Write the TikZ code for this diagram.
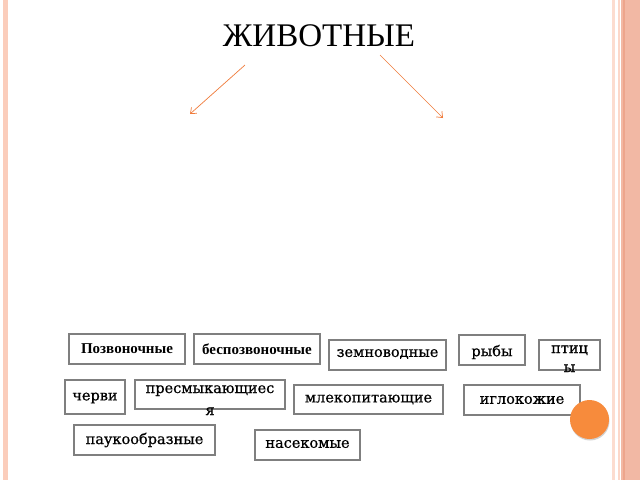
\documentclass[tikz,border=0pt]{standalone}
\usepackage{fontspec}
\setmainfont{DejaVu Serif}
\newfontfamily\lblfont[FakeBold=0.6]{DejaVu Serif}
\newfontfamily\titlefont{Liberation Serif}
\newfontfamily\boldfont{Liberation Serif}
\usetikzlibrary{arrows.meta}
\definecolor{peach}{HTML}{FBCDBB}
\definecolor{salmon}{HTML}{F2B8A4}
\definecolor{salmondark}{HTML}{EDA58C}
\definecolor{arroworange}{HTML}{F07B3B}
\definecolor{dotorange}{HTML}{F78B3C}
\definecolor{boxgray}{HTML}{7F7F7F}
\tikzset{
  boxnode/.style={draw=boxgray, line width=1.6pt, fill=white, inner sep=0pt},
  lbl/.style={font=\lblfont\fontsize{14.5}{15}\selectfont, inner sep=0pt},
  blbl/.style={font=\boldfont\bfseries\fontsize{15}{16}\selectfont, inner sep=0pt},
  arr/.style={draw=arroworange, line width=0.7pt, -{Straight Barb[length=5pt,width=8pt]}}
}
\newcommand{\mybox}[5]{% name, x1,y1,x2,y2
  \path[boxnode] (#2,#3) rectangle (#4,#5);
  \coordinate (#1) at ({(#2+#4)/2},{(#3+#5)/2});
}
\begin{document}
\begin{tikzpicture}[x=1pt,y=-1pt]
\useasboundingbox (0,0) rectangle (640,480);
\fill[white] (0,0) rectangle (640,480);
% decorative borders
\fill[peach] (3,0) rectangle (7.5,480);
\fill[peach!70] (612,0) rectangle (614.5,480);
\fill[peach!80] (618,0) rectangle (620,480);
\fill[salmon] (621,0) rectangle (640,480);
\fill[salmondark] (622.5,0) rectangle (625,480);
% title
\node[font=\titlefont\fontsize{33}{36}\selectfont, anchor=base, inner sep=0pt] (title) at (319,46) {ЖИВОТНЫЕ};
\coordinate (la) at (245,65);
\coordinate (lb) at (190,114);
\coordinate (ra) at (380,55);
\coordinate (rb) at (443,118);
\draw[arr] (la) -- (lb);
\draw[arr] (ra) -- (rb);
% boxes
\mybox{bpoz}{69}{334}{185}{364}
\mybox{bbes}{194}{334}{320}{364}
\mybox{bzem}{329}{340}{446}{370}
\mybox{bryb}{459}{335}{525}{365}
\mybox{bpti}{539}{340}{600}{370}
\mybox{bche}{65}{380}{125}{414}
\mybox{bpre}{135}{380}{285}{409}
\mybox{bmle}{294}{385}{443}{414}
\mybox{bigl}{464}{385}{580}{415}
\mybox{bpau}{74}{425}{215}{455}
\mybox{bnas}{255}{430}{360}{460}
% texts
\node[blbl] (tpoz) at (bpoz) {Позвоночные};
\node[blbl] (tbes) at (bbes) {беспозвоночные};
\node[lbl] (tzem) at ([yshift=1]bzem) {земноводные};
\node[lbl] (tryb) at ([yshift=-2]bryb) {рыбы};
\node[lbl, anchor=base] (tpti) at (569.5,353) {птиц};
\node[lbl, anchor=base] (tpti2) at (569.5,372) {ы};
\node[lbl] (tche) at ([yshift=-1]bche) {черви};
\node[lbl, anchor=base] (tpre) at (210,393) {пресмыкающиес};
\node[lbl, anchor=base] (tpre2) at (210,415) {я};
\node[lbl] (tmle) at (bmle) {млекопитающие};
\node[lbl] (tigl) at (bigl) {иглокожие};
\node[lbl] (tpau) at (bpau) {паукообразные};
\node[lbl] (tnas) at ([yshift=1]bnas) {насекомые};
% orange dot
\fill[black!35, opacity=0.5] (590,421) circle (19.5);
\fill[dotorange] (589.5,419.5) circle (19.5);
\end{tikzpicture}
\end{document}
